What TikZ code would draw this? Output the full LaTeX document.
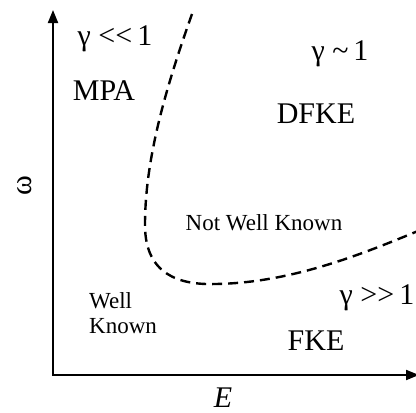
\documentclass[tikz,border=0pt]{standalone}
\usepackage{fontspec}
\setmainfont{Liberation Serif}
\usetikzlibrary{arrows.meta,positioning}

\begin{document}
\begin{tikzpicture}[x=1pt, y=-1pt,
        big/.style={anchor=base, inner sep=0pt, font=\fontsize{30}{36}\selectfont},
        small/.style={anchor=base, inner sep=0pt, font=\fontsize{23}{25}\selectfont},
        axis/.style={{Triangle[length=13pt,width=10pt]}-{Triangle[length=13pt,width=10pt]}, line width=2pt},
        bound/.style={line width=2.4pt, dash pattern=on 10pt off 6pt}
      ]
        \useasboundingbox (0,0) rectangle (416,413);

        \coordinate (ytip)   at (53,10);
        \coordinate (origin) at (53,375);
        \coordinate (xtip)   at (419,375);
        \draw[axis] (ytip) -- (origin) -- (xtip);

        \node[big]   (ylab)  at (25,186) [anchor=center, rotate=90] {ω};
        \node[big]   (xlab)  at (223,407) {\itshape E};

        \node[big]   (low)   at (115,45)  {γ {<}{<}\,1};
        \node[big]   (mpa)   at (104,100) {MPA};
        \node[big]   (mid)   at (340,60)  {γ \textasciitilde\,1};
        \node[big]   (dfke)  at (316,123) {DFKE};
        \node[small] (nwk)   at (264,230) {Not Well Known};
        \node[small, anchor=base west, align=left] (wk) at (89,333) {Well\\Known};
        \node[big]   (high)  at (377,304) {γ {>}{>}\,1};
        \node[big]   (fke)   at (316,350) {FKE};

        \draw[bound] (192,14) .. controls (165,90) and (145,160) .. (145,225)
                              .. controls (145,275) and (180,285) .. (215,284)
                              .. controls (290,283) and (360,255) .. (418,231);
      \end{tikzpicture}
\end{document}
